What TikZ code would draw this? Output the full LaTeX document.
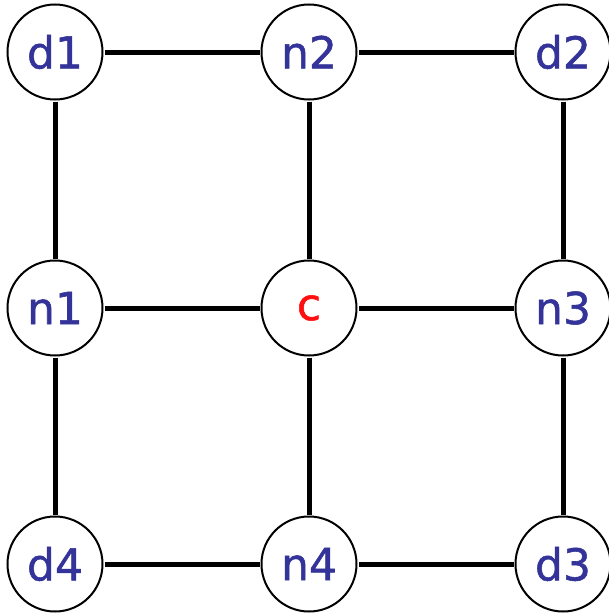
\documentclass[tikz,border=0pt]{standalone}
\usepackage{fontspec}
\setmainfont{DejaVu Sans}
\newfontfamily\lblfont{DejaVu Sans}[FakeBold=1.2]
\definecolor{lblue}{HTML}{333399}
\definecolor{lred}{HTML}{FF1010}
\begin{document}
\begin{tikzpicture}[x=1pt,y=-1pt,
  vtx/.style={circle,draw=black,line width=2pt,fill=white,minimum size=95pt,inner sep=0pt,font=\lblfont\fontsize{44}{44}\selectfont,text=lblue},
  edge/.style={line width=5pt,black}]
\useasboundingbox (0,0) rectangle (608,616);
\node[vtx] (d1) at (55,52) {d1};
\node[vtx] (n2) at (309,52) {n2};
\node[vtx] (d2) at (563,52) {d2};
\node[vtx] (n1) at (55,308) {n1};
\node[vtx,text=lred] (c) at (309,308) {c};
\node[vtx] (n3) at (563,308) {n3};
\node[vtx] (d4) at (55,564) {d4};
\node[vtx] (n4) at (309,564) {n4};
\node[vtx] (d3) at (563,564) {d3};
\foreach \a/\b in {d1/n2,n2/d2,n1/c,c/n3,d4/n4,n4/d3,d1/n1,n1/d4,n2/c,c/n4,d2/n3,n3/d3}
  \draw[edge,shorten <=1pt,shorten >=1pt] (\a) -- (\b);
\end{tikzpicture}
\end{document}
